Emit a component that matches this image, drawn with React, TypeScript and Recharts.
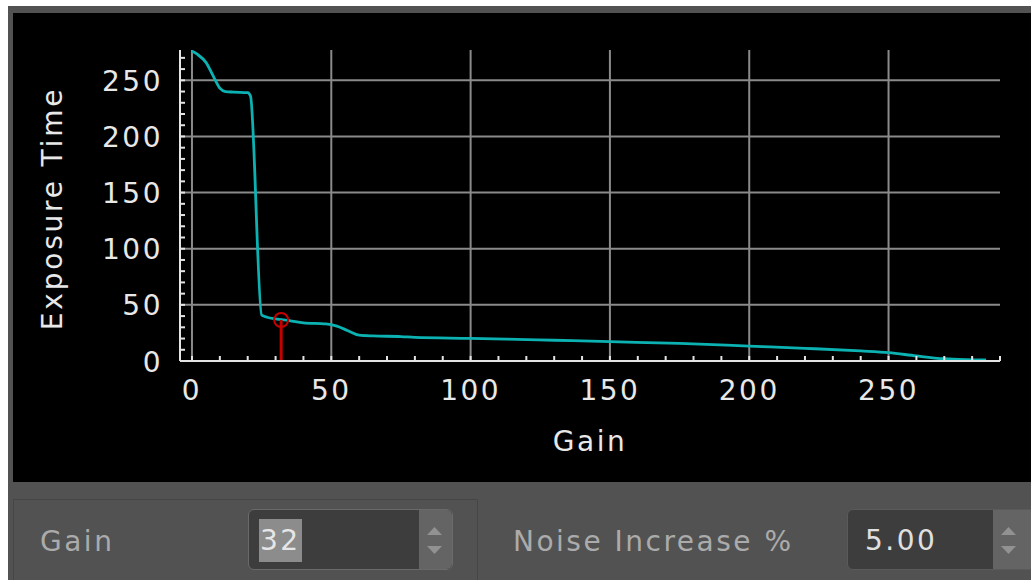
import {
  ComposedChart,
  Line,
  XAxis,
  YAxis,
  CartesianGrid,
  ReferenceLine,
  ReferenceDot,
  Label,
} from "recharts"

const GAIN = [
  0, 2, 5, 8, 10, 12, 15, 20, 21, 25, 27, 30, 35, 40, 48, 52, 56, 60, 65, 75,
  80, 100, 130, 150, 175, 200, 220, 240, 250, 260, 270, 278, 285,
]
const EXPOSURE = [
  276, 273, 266, 252, 243, 240, 239.5, 239, 236, 41, 39, 37.5, 36, 34, 33, 31,
  27, 23, 22.3, 21.8, 21, 20.2, 18.5, 17.2, 15.7, 13.3, 11.3, 9, 7.5, 4.5, 2,
  1.2, 0.9,
]

const X_TICKS = [
  0, 10, 20, 30, 40, 50, 60, 70, 80, 90, 100, 110, 120, 130, 140, 150, 160,
  170, 180, 190, 200, 210, 220, 230, 240, 250, 260, 270, 280, 290,
]
const Y_TICKS = [
  0, 10, 20, 30, 40, 50, 60, 70, 80, 90, 100, 110, 120, 130, 140, 150, 160,
  170, 180, 190, 200, 210, 220, 230, 240, 250, 260, 270,
]
const MAJOR_X = [0, 50, 100, 150, 200, 250]
const MAJOR_Y = [50, 100, 150, 200, 250]

const SELECTED_GAIN = 32
const SELECTED_EXPOSURE = 36.5
const NOISE_INCREASE = "5.00"

const FONT = "'DejaVu Sans', sans-serif"
const AXIS = "#e4e4e4"

const chartData = GAIN.map((g, i) => ({ gain: g, exposure: EXPOSURE[i] }))

function XTick(props: any) {
  const { x, y, payload } = props
  const v = payload.value
  const major = v % 50 === 0 && v <= 250
  return (
    <g>
      <line x1={x} y1={y} x2={x} y2={y - 5} stroke={AXIS} strokeWidth={2} />
      {major && (
        <text
          x={x}
          y={y + 29}
          textAnchor="middle"
          dominantBaseline="central"
          fill="#e8e8e8"
          fontSize={28}
          letterSpacing={2.5}
          fontFamily={FONT}
        >
          {v}
        </text>
      )}
    </g>
  )
}

function YTick(props: any) {
  const { x, y, payload } = props
  const v = payload.value
  const major = v % 50 === 0
  return (
    <g>
      <line x1={x} y1={y} x2={x + 5} y2={y} stroke={AXIS} strokeWidth={2} />
      {major && (
        <text
          x={x - 17}
          y={y + 1}
          textAnchor="end"
          dominantBaseline="central"
          fill="#e8e8e8"
          fontSize={28}
          letterSpacing={2.5}
          fontFamily={FONT}
        >
          {v}
        </text>
      )}
    </g>
  )
}

function SpinButtons({ left, width = 33 }: { left: number; width?: number }) {
  return (
    <div
      style={{
        position: "absolute",
        left,
        top: 0,
        bottom: 0,
        width,
        background: "#646464",
        borderRadius: "0 5px 5px 0",
      }}
    >
      <svg width={33} height={59}>
        <path d="M8 25 L15.5 17 L23 25 Z" fill="#929292" />
        <path d="M8 36 L15.5 44 L23 36 Z" fill="#929292" />
      </svg>
    </div>
  )
}

const labelStyle = {
  position: "absolute" as const,
  top: 535,
  transform: "translateY(-50%)",
  color: "#ababab",
  fontSize: 28,
  letterSpacing: 2.5,
  whiteSpace: "nowrap" as const,
}

export default function App() {
  return (
    <div
      style={{
        position: "fixed",
        left: 8,
        top: 6,
        width: 1023,
        height: 574,
        background: "#525252",
        overflow: "hidden",
        fontFamily: FONT,
      }}
    >
      <div
        style={{
          position: "absolute",
          left: 5,
          top: 7,
          width: 1018,
          height: 469,
          background: "#000",
        }}
      >
        <ComposedChart
          width={1018}
          height={469}
          data={chartData}
          margin={{ top: 37, right: 31, left: 0, bottom: 0 }}
        >
          <CartesianGrid
            stroke="#8a8a8a"
            strokeWidth={2}
            verticalValues={MAJOR_X}
            horizontalValues={MAJOR_Y}
          />
          <XAxis
            dataKey="gain"
            type="number"
            domain={[-4.3, 290]}
            allowDataOverflow
            ticks={X_TICKS}
            interval={0}
            tickSize={0}
            tickMargin={0}
            tickLine={false}
            axisLine={{ stroke: AXIS, strokeWidth: 2 }}
            tick={<XTick />}
            height={121}
          >
            <Label
              content={(p: any) => {
                const vb = p.viewBox
                return (
                  <text
                    x={vb.x + vb.width / 2}
                    y={vb.y + 80}
                    textAnchor="middle"
                    dominantBaseline="central"
                    fill="#e8e8e8"
                    fontSize={28}
                    letterSpacing={2.5}
                    fontFamily={FONT}
                  >
                    Gain
                  </text>
                )
              }}
            />
          </XAxis>
          <YAxis
            type="number"
            domain={[0, 277]}
            allowDataOverflow
            ticks={Y_TICKS}
            interval={0}
            tickSize={0}
            tickMargin={0}
            tickLine={false}
            axisLine={{ stroke: AXIS, strokeWidth: 2 }}
            tick={<YTick />}
            width={167}
          >
            <Label
              content={(p: any) => {
                const vb = p.viewBox
                const cy = vb.y + vb.height / 2 + 3
                return (
                  <text
                    x={39}
                    y={cy}
                    transform={`rotate(-90, 39, ${cy})`}
                    textAnchor="middle"
                    dominantBaseline="central"
                    fill="#e8e8e8"
                    fontSize={28}
                    letterSpacing={2.8}
                    fontFamily={FONT}
                  >
                    Exposure Time
                  </text>
                )
              }}
            />
          </YAxis>
          <Line
            type="monotone"
            dataKey="exposure"
            stroke="#0cb2b2"
            strokeWidth={2.8}
            dot={false}
            isAnimationActive={false}
          />
          <ReferenceLine
            segment={[
              { x: SELECTED_GAIN, y: 0 },
              { x: SELECTED_GAIN, y: SELECTED_EXPOSURE },
            ]}
            stroke="#c40000"
            strokeWidth={3}
          />
          <ReferenceDot
            x={SELECTED_GAIN}
            y={SELECTED_EXPOSURE}
            r={7}
            fill="none"
            stroke="#c40000"
            strokeWidth={2}
          />
        </ComposedChart>
      </div>

      <div
        style={{
          position: "absolute",
          left: 5,
          top: 493,
          width: 465,
          height: 100,
          border: "1px solid #464646",
          boxSizing: "border-box",
        }}
      />
      <div style={{ ...labelStyle, left: 32 }}>Gain</div>
      <div
        style={{
          position: "absolute",
          left: 240,
          top: 503,
          width: 205,
          height: 61,
          border: "1px solid #6a6a6a",
          borderRadius: 6,
          background: "#3d3d3d",
          boxSizing: "border-box",
          overflow: "hidden",
        }}
      >
        <div
          style={{
            position: "absolute",
            left: 10,
            top: 9,
            height: 43,
            lineHeight: "43px",
            padding: "0 1px",
            background: "#8c8c8c",
            color: "#e6e6e6",
            fontSize: 28,
            letterSpacing: 2.5,
          }}
        >
          {SELECTED_GAIN}
        </div>
        <SpinButtons left={170} />
      </div>

      <div style={{ ...labelStyle, left: 505 }}>Noise Increase %</div>
      <div
        style={{
          position: "absolute",
          left: 839,
          top: 503,
          width: 200,
          height: 61,
          border: "1px solid #5a5a5a",
          borderRadius: 6,
          background: "#3d3d3d",
          boxSizing: "border-box",
          overflow: "hidden",
        }}
      >
        <div
          style={{
            position: "absolute",
            left: 17,
            top: 9,
            height: 43,
            lineHeight: "43px",
            color: "#e0e0e0",
            fontSize: 28,
            letterSpacing: 2.5,
          }}
        >
          {NOISE_INCREASE}
        </div>
        <SpinButtons left={145} width={60} />
      </div>
    </div>
  )
}
